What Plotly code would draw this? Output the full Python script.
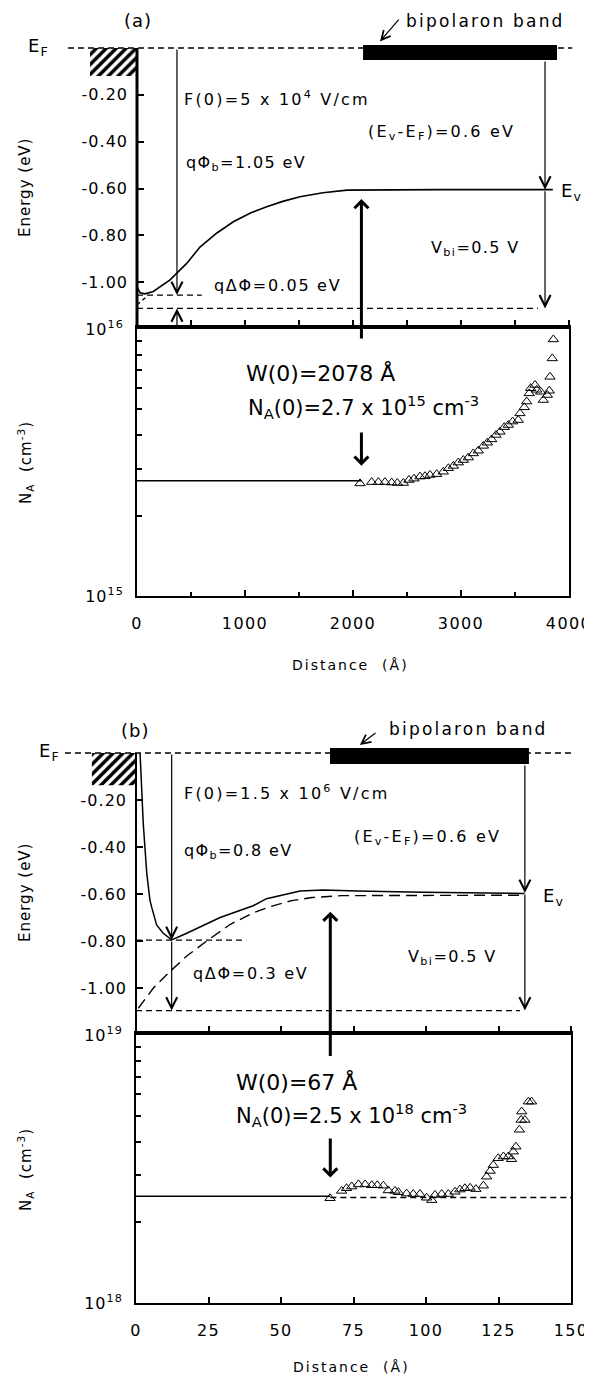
import plotly.graph_objects as go

W, H = 592, 1386
OFF = 8          # page offset of the figure (default body margin)
FONT = "DejaVu Sans"

# ---------------- Panel (a) data ----------------
a_curve_x = [0, 28, 74, 151, 306, 382, 460, 583, 740, 892, 1050, 1201, 1350, 1509, 1722, 1944, 2300, 2800, 3300, 3850]
a_curve_E = [-1.020, -1.045, -1.050, -1.040, -0.990, -0.955, -0.920, -0.850, -0.790, -0.742, -0.705, -0.678,
             -0.655, -0.635, -0.618, -0.607, -0.605, -0.605, -0.605, -0.605]
a_dash_x = [0, 90]
a_dash_E = [-1.097, -1.062]
a_hi_x, a_hi_E = [0, 600], -1.055          # qPhi_b level
a_lo_x, a_lo_E = [0, 3713], -1.112         # lower level
a_EF_x = [-639, 4030]
a_band_x = [2093, 3889]
a_band_E = [0.013, -0.051]
a_hatch_x = [-435, 0]
a_hatch_E = [0.0, -0.12]
a_W0 = 2078
a_NA0 = 2.7e15
a_tri_x = [2065, 2173, 2235, 2296, 2358, 2410, 2466, 2518, 2565, 2620,
           2667, 2713, 2775, 2836, 2883, 2929, 2975, 3021, 3068, 3114,
           3160, 3207, 3244, 3284, 3324, 3361, 3401, 3438, 3478, 3530,
           3546, 3586, 3608, 3632, 3645, 3685, 3701, 3738, 3762, 3799,
           3817, 3824, 3845, 3855]
a_tri_N = [2.64, 2.67, 2.67, 2.67, 2.66, 2.65, 2.65, 2.72, 2.75, 2.80,
           2.81, 2.84, 2.86, 2.92, 3.01, 3.07, 3.16, 3.23, 3.30, 3.42,
           3.50, 3.65, 3.75, 3.86, 4.01, 4.12, 4.29, 4.37, 4.50, 4.56,
           4.83, 5.09, 5.35, 5.74, 6.00, 6.17, 5.92, 5.82, 5.42, 5.66,
           5.87, 6.62, 7.76, 9.14]  # x 1e15 cm^-3

# ---------------- Panel (b) data ----------------
b_curve_x = [1.4, 2.0, 2.5, 3.7, 4.8, 5.4, 7.1, 9.4, 12.3, 17.5, 29.0, 40.4, 45.0, 56.6, 64.5, 76.2, 99.0, 134.0]
b_curve_E = [0.0, -0.16, -0.30, -0.51, -0.626, -0.656, -0.732, -0.767, -0.795, -0.767, -0.700, -0.650,
             -0.620, -0.587, -0.583, -0.587, -0.593, -0.598]
b_dcurve_x = [0.8, 6.0, 11.7, 17.5, 24.4, 32.4, 40.4, 46.2, 53.7, 60.7, 71.0, 100.0, 134.0]
b_dcurve_E = [-1.086, -1.0, -0.93, -0.864, -0.80, -0.73, -0.68, -0.654, -0.628, -0.615, -0.607, -0.605, -0.605]
b_hi_x, b_hi_E = [0, 38], -0.796
b_lo_x, b_lo_E = [0, 132.4], -1.096
b_EF_x = [-24.5, 150.7]
b_band_x = [66.9, 135.5]
b_band_E = [0.021, -0.047]
b_hatch_x = [-15.2, 0]
b_hatch_E = [0.0, -0.137]
b_W0 = 67
b_NA0 = 2.5e18
b_tri_x = [66.9, 70.9, 72.6, 74.4, 76.7, 79.0, 81.3, 83.2, 85.3, 87.0,
           89.3, 90.5, 93.3, 95.6, 97.9, 100.2, 102.0, 103.1, 105.4, 107.7,
           110.0, 111.7, 113.4, 115.2, 117.2, 119.8, 120.9, 122.1, 123.2, 124.9,
           126.7, 128.4, 129.5, 130.1, 131.0, 132.2, 132.8, 133.0, 134.1, 135.3, 136.4]
b_tri_N = [2.46, 2.62, 2.68, 2.72, 2.77, 2.77, 2.75, 2.75, 2.74, 2.63,
           2.62, 2.59, 2.56, 2.55, 2.55, 2.47, 2.42, 2.53, 2.55, 2.55,
           2.60, 2.65, 2.68, 2.69, 2.66, 2.74, 2.96, 3.11, 3.27, 3.47,
           3.52, 3.52, 3.44, 3.67, 3.83, 4.43, 4.82, 5.18, 4.82, 5.64, 5.64]  # x 1e18 cm^-3

a_xticks = [0, 1000, 2000, 3000, 4000]
b_xticks = [0, 25, 50, 75, 100, 125, 150]
E_ticks = [-1.0, -0.8, -0.6, -0.4, -0.2]
E_ticktext = ["-1.00", "-0.80", "-0.60", "-0.40", "-0.20"]


def px(x):
    return (x - OFF) / W


def py(y):
    return 1 - (y - OFF) / H


def ls(t, s=1.5):
    if s <= 0:
        return t
    return f'<span style="letter-spacing:{s}px">{t}</span>'


fig = go.Figure()


def line(x, y, xa, ya, width=1.4, dash=None):
    fig.add_trace(go.Scatter(x=x, y=y, mode="lines", xaxis=xa, yaxis=ya,
                             line=dict(color="black", width=width, dash=dash), hoverinfo="skip"))


def rect(xs, ys, xa, ya, pattern=False):
    x0, x1 = xs
    y0, y1 = ys
    kw = dict(x=[x0, x1, x1, x0, x0], y=[y0, y0, y1, y1, y0], mode="none", fill="toself",
              xaxis=xa, yaxis=ya, hoverinfo="skip")
    if pattern:
        kw["fillcolor"] = "white"
        kw["fillpattern"] = dict(shape="/", fgcolor="black", bgcolor="white", size=7, solidity=0.5,
                                 fgopacity=1)
    else:
        kw["fillcolor"] = "black"
    fig.add_trace(go.Scatter(**kw))


# ======= Panel (a) energy =======
rect(a_hatch_x, a_hatch_E, "x3", "y3", pattern=True)
line(a_EF_x, [0, 0], "x3", "y3", 1.3, "6px,4px")
line([0, 0], [0, -1.2], "x3", "y3", 3)
line(a_curve_x, a_curve_E, "x3", "y3", 1.6)
line(a_dash_x, a_dash_E, "x3", "y3", 1.3, "4px,3px")
line(a_hi_x, [a_hi_E] * 2, "x3", "y3", 1.3, "6px,4px")
line(a_lo_x, [a_lo_E] * 2, "x3", "y3", 1.3, "6px,4px")
rect(a_band_x, a_band_E, "x3", "y3")

# ======= Panel (a) N_A =======
line([0, a_W0], [a_NA0, a_NA0], "x", "y", 1.5)
fig.add_trace(go.Scatter(x=a_tri_x, y=[v * 1e15 for v in a_tri_N], mode="markers", xaxis="x", yaxis="y",
                         marker=dict(symbol="triangle-up-open", size=9, color="black", line=dict(width=1)),
                         hoverinfo="skip"))
fig.add_trace(go.Scatter(x=[0], y=[1e15], mode="markers", xaxis="x5", yaxis="y",
                         marker=dict(opacity=0), hoverinfo="skip"))

# ======= Panel (b) energy =======
rect(b_hatch_x, b_hatch_E, "x4", "y4", pattern=True)
line(b_EF_x, [0, 0], "x4", "y4", 1.3, "6px,4px")
line([0, 0], [0, -1.2], "x4", "y4", 2)
line(b_curve_x, b_curve_E, "x4", "y4", 1.5)
line(b_dcurve_x, b_dcurve_E, "x4", "y4", 1.4, "11px,6px")
line(b_hi_x, [b_hi_E] * 2, "x4", "y4", 1.3, "6px,4px")
line(b_lo_x, [b_lo_E] * 2, "x4", "y4", 1.3, "6px,4px")
rect(b_band_x, b_band_E, "x4", "y4")

# ======= Panel (b) N_A =======
line([0, b_W0], [b_NA0, b_NA0], "x2", "y2", 1.5)
line([b_W0, 150], [b_NA0 * 0.99, b_NA0 * 0.99], "x2", "y2", 1.3, "6px,4px")
fig.add_trace(go.Scatter(x=b_tri_x, y=[v * 1e18 for v in b_tri_N], mode="markers", xaxis="x2", yaxis="y2",
                         marker=dict(symbol="triangle-up-open", size=9, color="black", line=dict(width=1)),
                         hoverinfo="skip"))
fig.add_trace(go.Scatter(x=[0], y=[1e18], mode="markers", xaxis="x6", yaxis="y2",
                         marker=dict(opacity=0), hoverinfo="skip"))

# ---------------- axes ----------------
tickfont = dict(family=FONT, size=16, color="black")
common = dict(showgrid=False, zeroline=False, linecolor="black", tickcolor="black", tickfont=tickfont,
              automargin=False)

a_scale = (569 - 137) / 4000.0      # px per Angstrom, panel (a)
b_scale = (571 - 136) / 150.0       # px per Angstrom, panel (b)
a_Escale = (329 - 48) / 1.2         # px per eV, panel (a)
b_Escale = (1035 - 753) / 1.2       # px per eV, panel (b)

fig.update_layout(
    xaxis=dict(domain=[px(137), px(569)], range=[0, 4000], anchor="y", tickvals=a_xticks,
               ticktext=[ls(str(v), 1.4) for v in a_xticks], ticks="inside", ticklen=6, tickwidth=1.5,
               minor=dict(tickvals=[500, 1500, 2500, 3500], ticks="inside", ticklen=4, tickcolor="black"),
               showline=True, linewidth=2, ticklabelstandoff=12, **common),
    xaxis5=dict(overlaying="x", side="top", anchor="y", range=[0, 4000], tickvals=list(range(0, 4001, 500)),
                ticks="outside", ticklen=5, tickwidth=1.5, showticklabels=False, showline=True, linewidth=3.5,
                **common),
    yaxis=dict(type="log", domain=[py(596), py(329)], range=[15, 16], anchor="x",
               tickvals=[1e15, 1e16], ticktext=[ls("10<sup>15</sup>", 1), ls("10<sup>16</sup>", 1)],
               ticks="inside", ticklen=6, tickwidth=1.5,
               minor=dict(tickvals=[k * 1e15 for k in range(2, 10)], ticks="inside", ticklen=5, tickcolor="black"),
               showline=True, mirror=True, linewidth=2, ticklabelstandoff=8, **common),
    xaxis3=dict(domain=[0, 1], range=[(OFF - 137) / a_scale, (OFF + W - 137) / a_scale], anchor="y3",
                visible=False, automargin=False),
    yaxis3=dict(domain=[py(329), 1], range=[-1.2, (48 - OFF) / a_Escale], anchor="free", position=px(137),
                tickvals=E_ticks, ticktext=[ls(t, 1) for t in E_ticktext], ticks="inside", ticklen=6,
                tickwidth=1.5, showline=False, ticklabelstandoff=9, **common),
    xaxis2=dict(domain=[px(136), px(571)], range=[0, 150], anchor="y2", tickvals=b_xticks,
                ticktext=[ls(str(v), 1.4) for v in b_xticks], ticks="inside", ticklen=6, tickwidth=1.5,
                showline=True, linewidth=2, ticklabelstandoff=12, **common),
    xaxis6=dict(overlaying="x2", side="top", anchor="y2", range=[0, 150], tickvals=b_xticks,
                ticks="outside", ticklen=5, tickwidth=1.5, showticklabels=False, showline=True, linewidth=3.5,
                **common),
    yaxis2=dict(type="log", domain=[py(1303), py(1035)], range=[18, 19], anchor="x2",
                tickvals=[1e18, 1e19], ticktext=[ls("10<sup>18</sup>", 1), ls("10<sup>19</sup>", 1)],
                ticks="inside", ticklen=6, tickwidth=1.5,
                minor=dict(tickvals=[k * 1e18 for k in range(2, 10)], ticks="inside", ticklen=5, tickcolor="black"),
                showline=True, mirror=True, linewidth=2, ticklabelstandoff=8, **common),
    xaxis4=dict(domain=[0, 1], range=[(OFF - 136) / b_scale, (OFF + W - 136) / b_scale], anchor="y4",
                visible=False, automargin=False),
    yaxis4=dict(domain=[py(1035), py(690)], range=[-1.2, (753 - 690) / b_Escale], anchor="free", position=px(136),
                tickvals=E_ticks, ticktext=[ls(t, 1) for t in E_ticktext], ticks="inside", ticklen=6,
                tickwidth=1.5, showline=False, ticklabelstandoff=9, **common),
)

# ---------------- annotations ----------------
ann = []


def arrow(xr, yr, x0, y0, x1, y1, width=1.2, head=5, size=1.8):
    ann.append(dict(x=x1, y=y1, ax=x0, ay=y0, xref=xr, yref=yr, axref=xr, ayref=yr, text="",
                    showarrow=True, arrowhead=head, arrowwidth=width, arrowsize=size,
                    arrowcolor="black", standoff=0, startstandoff=0))


def text(t, x, y, size=16, xanchor="left", angle=0, spacing=1.5):
    ann.append(dict(text=ls(t, spacing), x=px(x), y=py(y), xref="paper", yref="paper", showarrow=False,
                    xanchor=xanchor, yanchor="middle", textangle=angle, borderpad=0,
                    font=dict(family=FONT, size=size, color="black")))


# arrows (a)
arrow("x3", "y3", 370, 0, 370, a_hi_E)
arrow("x3", "y3", 370, -1.196, 370, a_lo_E)
arrow("x3", "y3", 3778, a_band_E[1], 3778, -0.605)
arrow("x3", "y3", 3778, -0.605, 3778, a_lo_E)
arrow("x3", "y3", a_W0, -1.247, a_W0, -0.645, width=3, head=4, size=0.9)
arrow("x3", "y3", 2435, 0.128, 2250, 0.028, width=1.2, head=5, size=1.5)
arrow("x", "y", a_W0, 15.618, a_W0, 15.488, width=3, head=4, size=0.9)

# arrows (b)
arrow("x4", "y4", 12.3, 0, 12.3, b_hi_E)
arrow("x4", "y4", 12.3, b_hi_E, 12.3, b_lo_E)
arrow("x4", "y4", 134.1, b_band_E[1], 134.1, -0.596)
arrow("x4", "y4", 134.1, -0.596, 134.1, b_lo_E)
arrow("x4", "y4", b_W0, -1.296, b_W0, -0.675, width=3, head=4, size=0.9)
arrow("x4", "y4", 83.1, 0.09, 77.2, 0.034, width=1.2, head=5, size=1.5)
arrow("x2", "y2", b_W0, 18.619, b_W0, 18.468, width=3, head=4, size=0.9)

# texts (a)
text("(a)", 138, 20, 18, "center", spacing=1)
text("E<sub>F</sub>", 27, 47, 18, spacing=1)
text("bipolaron band", 405, 21, 17, spacing=2.2)
text("F(0)=5 x 10<sup>4</sup> V/cm", 183, 98, 16, spacing=2.2)
text("qΦ<sub>b</sub>=1.05 eV", 185, 163, 16, spacing=1.4)
text("(E<sub>v</sub>-E<sub>F</sub>)=0.6 eV", 367, 133, 16, spacing=2.2)
text("E<sub>v</sub>", 560, 192, 18, spacing=1)
text("V<sub>bi</sub>=0.5 V", 430, 248, 16, spacing=1.4)
text("qΔΦ=0.05 eV", 213, 285, 16, spacing=1.7)
text("W(0)=2078 Å", 245, 373, 22, spacing=0)
text("N<sub>A</sub>(0)=2.7 x 10<sup>15</sup> cm<sup>-3</sup>", 247, 407, 21, spacing=0)
text("Energy (eV)", 25, 188, 15, "center", angle=-90, spacing=1)
text("N<sub>A</sub>  (cm<sup>-3</sup>)", 25, 463, 15, "center", angle=-90, spacing=1)
text("Distance  (Å)", 350, 665, 14, "center", spacing=2)

# texts (b)
text("(b)", 135, 730, 18, "center", spacing=1)
text("E<sub>F</sub>", 38, 752, 18, spacing=1)
text("bipolaron band", 388, 729, 17, spacing=2.2)
text("F(0)=1.5 x 10<sup>6</sup> V/cm", 183, 792, 16, spacing=2.2)
text("qΦ<sub>b</sub>=0.8 eV", 183, 852, 16, spacing=1.4)
text("(E<sub>v</sub>-E<sub>F</sub>)=0.6 eV", 353, 837, 16, spacing=2.2)
text("E<sub>v</sub>", 542, 897, 18, spacing=1)
text("V<sub>bi</sub>=0.5 V", 407, 958, 16, spacing=1.4)
text("qΔΦ=0.3 eV", 192, 973, 16, spacing=1.7)
text("W(0)=67 Å", 235, 1082, 22, spacing=0)
text("N<sub>A</sub>(0)=2.5 x 10<sup>18</sup> cm<sup>-3</sup>", 235, 1115, 21, spacing=0)
text("Energy (eV)", 25, 893, 15, "center", angle=-90, spacing=1)
text("N<sub>A</sub>  (cm<sup>-3</sup>)", 25, 1170, 15, "center", angle=-90, spacing=1)
text("Distance  (Å)", 352, 1367, 14, "center", spacing=2)

fig.update_layout(annotations=ann, width=W, height=H, autosize=False,
                  margin=dict(l=0, r=0, t=0, b=0, pad=0, autoexpand=False),
                  paper_bgcolor="white", plot_bgcolor="rgba(0,0,0,0)", showlegend=False,
                  font=dict(family=FONT, size=16, color="black"))

fig.write_html("out.html")
